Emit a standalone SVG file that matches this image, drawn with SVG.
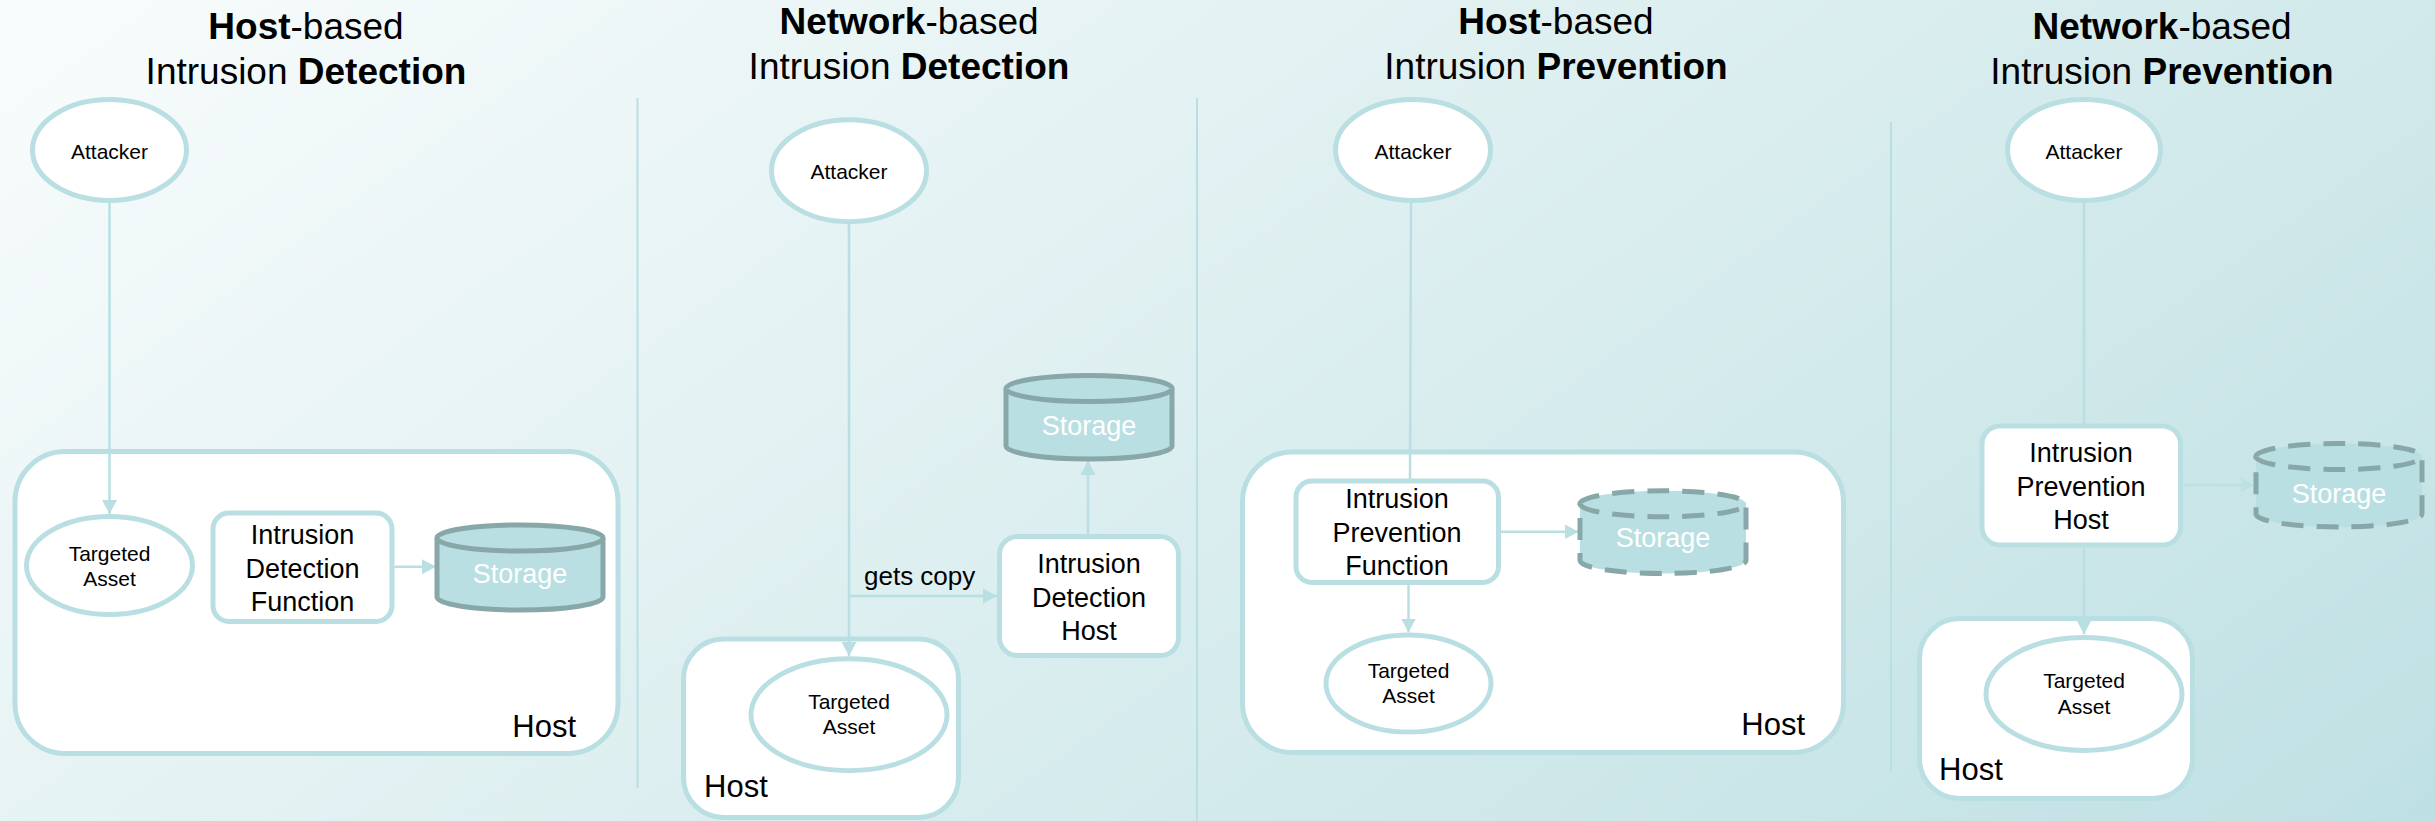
<svg xmlns="http://www.w3.org/2000/svg" width="2435" height="821" viewBox="0 0 2435 821">
<defs>
<linearGradient id="bg" gradientUnits="userSpaceOnUse" x1="0" y1="0" x2="1303" y2="1784">
<stop offset="0" stop-color="#f9fcfc"/>
<stop offset="1" stop-color="#bcdfe2"/>
</linearGradient>
<marker id="arr" markerUnits="userSpaceOnUse" markerWidth="15" markerHeight="16" refX="14" refY="7.5" orient="auto">
<path d="M0,0 L14,7.5 L0,15 z" fill="#b9dfe3"/>
</marker>
</defs>
<style>
text{font-family:"Liberation Sans",Arial,Helvetica,sans-serif;fill:#000}
.title{font-size:37px}
.b{font-weight:bold}
.node{fill:#fff;stroke:#b9dfe3;stroke-width:5}
.host{fill:#fff;stroke:#b9dfe3;stroke-width:5}
.cyl{fill:#b9dfe2;stroke:#88a7a8;stroke-width:5}
.dash{stroke-dasharray:22 13}
.sm{font-size:21px;text-anchor:middle}
.md{font-size:27px;text-anchor:middle}
.hl{font-size:31px}
.st{font-size:27px;text-anchor:middle;fill:#fff}
.conn line,.conn path{stroke:#b9dfe3;stroke-width:2.5;fill:none}
.div line{stroke:#b9dfe3;stroke-width:2}
</style>
<rect width="2435" height="821" fill="url(#bg)"/>

<g id="titles">
<text class="title" x="306" y="39" text-anchor="middle"><tspan class="b">Host</tspan>-based</text>
<text class="title" x="306" y="84" text-anchor="middle">Intrusion <tspan class="b">Detection</tspan></text>
<text class="title" x="909" y="33.5" text-anchor="middle"><tspan class="b">Network</tspan>-based</text>
<text class="title" x="909" y="78.5" text-anchor="middle">Intrusion <tspan class="b">Detection</tspan></text>
<text class="title" x="1556" y="33.5" text-anchor="middle"><tspan class="b">Host</tspan>-based</text>
<text class="title" x="1556" y="78.5" text-anchor="middle">Intrusion <tspan class="b">Prevention</tspan></text>
<text class="title" x="2162" y="39" text-anchor="middle"><tspan class="b">Network</tspan>-based</text>
<text class="title" x="2162" y="84" text-anchor="middle">Intrusion <tspan class="b">Prevention</tspan></text>
</g>

<g class="div" id="dividers">
<line x1="637.5" y1="98" x2="637.5" y2="788"/>
<line x1="1197" y1="98" x2="1197" y2="821"/>
<line x1="1891" y1="122" x2="1891" y2="771"/>
</g>

<!-- Host containers -->
<g id="host1"><rect class="host" x="15" y="451.5" width="603" height="302" rx="50"/><text class="hl" x="576" y="736.7" text-anchor="end">Host</text></g>
<g id="host2"><rect class="host" x="683.5" y="639" width="275" height="178.5" rx="40"/><text class="hl" x="704" y="796.5">Host</text></g>
<g id="host3"><rect class="host" x="1242.5" y="452" width="601" height="300.5" rx="50"/><text class="hl" x="1805" y="735" text-anchor="end">Host</text></g>
<g id="host4"><rect class="host" x="1919.5" y="618.5" width="273" height="180" rx="40"/><text class="hl" x="1939" y="780">Host</text></g>

<g class="conn" id="connectors">
<line x1="109.5" y1="200.5" x2="109.5" y2="514" marker-end="url(#arr)"/>
<line x1="394.5" y1="566.7" x2="436" y2="566.7" marker-end="url(#arr)"/>
<line x1="849" y1="222" x2="849" y2="656" marker-end="url(#arr)"/>
<line x1="849" y1="596" x2="997" y2="596" marker-end="url(#arr)"/>
<line x1="1088" y1="534" x2="1088" y2="461" marker-end="url(#arr)"/>
<line x1="1411" y1="201" x2="1410" y2="480"/>
<line x1="1501" y1="531.7" x2="1578.5" y2="531.7" marker-end="url(#arr)"/>
<line x1="1408.5" y1="585" x2="1408.5" y2="632.5" marker-end="url(#arr)"/>
<line x1="2084" y1="201" x2="2084" y2="425"/>
<line x1="2183" y1="485" x2="2254.5" y2="485" marker-end="url(#arr)" opacity="0.75"/>
<line x1="2084" y1="547.7" x2="2084" y2="634.3" marker-end="url(#arr)"/>
<text x="864" y="585" style="font-size:26px">gets copy</text>
</g>

<!-- Panel 1 -->
<g id="attacker1"><ellipse class="node" cx="109.5" cy="150" rx="77" ry="50.5"/><text class="sm" x="109.5" y="158.5">Attacker</text></g>
<g id="target1"><ellipse class="node" cx="109.5" cy="565.5" rx="83" ry="49"/><text class="sm" x="109.5" y="560.7">Targeted</text><text class="sm" x="109.5" y="585.7">Asset</text></g>
<g id="idf1"><rect class="node" x="213" y="513" width="179" height="108.5" rx="16"/><text class="md" x="302.5" y="544">Intrusion</text><text class="md" x="302.5" y="577.5">Detection</text><text class="md" x="302.5" y="611">Function</text></g>
<g id="storage1"><path class="cyl" d="M437,538 A83,13 0 0 1 603,538 L603,597 A83,13 0 0 1 437,597 Z"/><path class="cyl" d="M437,538 A83,13 0 0 0 603,538" fill="none"/><text class="st" x="520" y="583.3">Storage</text></g>

<!-- Panel 2 -->
<g id="attacker2"><ellipse class="node" cx="849" cy="170.7" rx="77.5" ry="51"/><text class="sm" x="849" y="179.3">Attacker</text></g>
<g id="target2"><ellipse class="node" cx="849" cy="714.7" rx="98" ry="56"/><text class="sm" x="849" y="709.3">Targeted</text><text class="sm" x="849" y="734.3">Asset</text></g>
<g id="idh2"><rect class="node" x="999.5" y="536.5" width="179" height="119" rx="18"/><text class="md" x="1089" y="573">Intrusion</text><text class="md" x="1089" y="606.7">Detection</text><text class="md" x="1089" y="640">Host</text></g>
<g id="storage2"><path class="cyl" d="M1006,388.5 A83,13 0 0 1 1172,388.5 L1172,446 A83,13 0 0 1 1006,446 Z"/><path class="cyl" d="M1006,388.5 A83,13 0 0 0 1172,388.5" fill="none"/><text class="st" x="1089" y="435">Storage</text></g>

<!-- Panel 3 -->
<g id="attacker3"><ellipse class="node" cx="1413" cy="150" rx="77.5" ry="50.5"/><text class="sm" x="1413" y="158.5">Attacker</text></g>
<g id="ipf3"><rect class="node" x="1296" y="481" width="202.5" height="101.5" rx="16"/><text class="md" x="1397" y="508.3">Intrusion</text><text class="md" x="1397" y="541.7">Prevention</text><text class="md" x="1397" y="575">Function</text></g>
<g id="target3"><ellipse class="node" cx="1408.5" cy="683.5" rx="82.5" ry="48.5"/><text class="sm" x="1408.5" y="678.3">Targeted</text><text class="sm" x="1408.5" y="703.3">Asset</text></g>
<g id="storage3"><path class="cyl dash" d="M1580,503.8 A83,13 0 0 1 1746,503.8 L1746,560.5 A83,13 0 0 1 1580,560.5 Z"/><path class="cyl dash" d="M1580,503.8 A83,13 0 0 0 1746,503.8" fill="none"/><text class="st" x="1663" y="546.7">Storage</text></g>

<!-- Panel 4 -->
<g id="attacker4"><ellipse class="node" cx="2084" cy="150" rx="76.5" ry="50.5"/><text class="sm" x="2084" y="158.5">Attacker</text></g>
<g id="iph4"><rect class="node" x="1982" y="426" width="198.5" height="119" rx="18"/><text class="md" x="2081" y="462">Intrusion</text><text class="md" x="2081" y="495.5">Prevention</text><text class="md" x="2081" y="529">Host</text></g>
<g id="target4"><ellipse class="node" cx="2084" cy="694" rx="98" ry="56.5"/><text class="sm" x="2084" y="688.3">Targeted</text><text class="sm" x="2084" y="714">Asset</text></g>
<g id="storage4"><path class="cyl dash" d="M2256,456.5 A83,13 0 0 1 2422,456.5 L2422,514 A83,13 0 0 1 2256,514 Z"/><path class="cyl dash" d="M2256,456.5 A83,13 0 0 0 2422,456.5" fill="none"/><text class="st" x="2339" y="503.3">Storage</text></g>
</svg>
